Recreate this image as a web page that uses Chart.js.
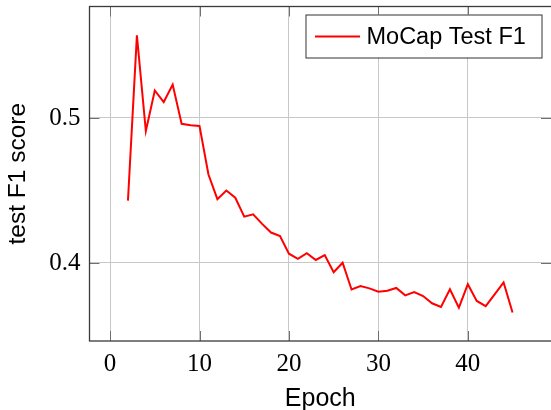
<!DOCTYPE html>
<html><head><meta charset="utf-8">
<script src="https://cdn.jsdelivr.net/npm/chart.js@4/dist/chart.umd.min.js"></script>
<style>html,body{margin:0;padding:0;background:#fff;}#wrap{width:551px;height:410px;}</style>
</head><body><div id="wrap"><canvas id="c" width="551" height="410"></canvas></div>
<script>
const epochs = [2,3,4,5,6,7,8,9,10,11,12,13,14,15,16,17,18,19,20,21,22,23,24,25,26,27,28,29,30,31,32,33,34,35,36,37,38,39,40,41,42,43,44,45];
const testF1 = [0.443,0.557,0.491,0.519,0.511,0.523,0.496,0.495,0.4945,0.461,0.444,0.450,0.445,0.432,0.4336,0.427,0.421,0.4186,0.4064,0.4028,0.4067,0.4021,0.4055,0.3936,0.4002,0.3817,0.3841,0.3825,0.3802,0.3809,0.3828,0.3777,0.3800,0.3772,0.3722,0.3697,0.3819,0.3692,0.3854,0.3738,0.3702,0.3784,0.3866,0.3658];
const xTickValues = [0,10,20,30,40];
const yTickValues = [0.4,0.5];
const seriesLabel = 'MoCap Test F1';
const xTitle = 'Epoch';
const yTitle = 'test F1 score';

const points = epochs.map((e,i)=>({x:e,y:testF1[i]}));

const framePlugin = {
  id:'frame',
  afterDraw(chart){
    const ctx = chart.ctx, a = chart.chartArea;
    const xs = chart.scales.x, ys = chart.scales.y;
    ctx.save();
    ctx.strokeStyle = '#707070'; ctx.lineWidth = 1;
    ctx.beginPath();
    xTickValues.forEach(v=>{
      const px = Math.round(xs.getPixelForValue(v))+0.5;
      ctx.moveTo(px,a.bottom); ctx.lineTo(px,a.bottom-10);
      ctx.moveTo(px,a.top); ctx.lineTo(px,a.top+10);
    });
    yTickValues.forEach(v=>{
      const py = Math.round(ys.getPixelForValue(v))+0.5;
      ctx.moveTo(a.left,py); ctx.lineTo(a.left+10,py);
      ctx.moveTo(a.right,py); ctx.lineTo(a.right-10,py);
    });
    ctx.stroke();
    ctx.strokeStyle = '#3a3a3a'; ctx.lineWidth = 1.3;
    ctx.strokeRect(a.left, a.top, a.right-a.left+1, a.bottom-a.top);
    const bx = a.right - 245.5, by = a.top + 8, bw = 236, bh = 43;
    ctx.fillStyle = '#fff';
    ctx.fillRect(bx,by,bw,bh);
    ctx.strokeStyle = '#333'; ctx.lineWidth = 1;
    ctx.strokeRect(bx+0.5,by+0.5,bw,bh);
    const cy = by + bh/2 + 0.5;
    ctx.strokeStyle = '#ff0000'; ctx.lineWidth = 2;
    ctx.beginPath(); ctx.moveTo(bx+9.5,cy); ctx.lineTo(bx+54.5,cy); ctx.stroke();
    ctx.fillStyle = '#000'; ctx.font = '23.5px "Liberation Sans"';
    ctx.textBaseline = 'middle'; ctx.textAlign = 'left';
    ctx.fillText(chart.data.datasets[0].label, bx+61, cy+1);
    ctx.restore();
  }
};

new Chart(document.getElementById('c'), {
  type:'line',
  data:{datasets:[{label:seriesLabel,data:points,borderColor:'#ff0000',backgroundColor:'#ff0000',borderWidth:2,pointRadius:0,tension:0,fill:false,borderJoinStyle:'miter'}]},
  options:{
    responsive:false, animation:false, devicePixelRatio:1,
    layout:{padding:{top:6.5,right:0,left:0,bottom:0}},
    plugins:{legend:{display:false},tooltip:{enabled:false}},
    scales:{
      x:{type:'linear',min:-2.3,max:49.3,
        afterBuildTicks(s){s.ticks = xTickValues.map(v=>({value:v}));},
        afterFit(s){s.height = 69; s.paddingLeft = 0; s.paddingRight = 0;},
        border:{display:false},
        grid:{color:'#c8c8c8',lineWidth:1,drawTicks:false},
        ticks:{padding:8,color:'#000',font:{family:'"Liberation Serif"',size:25},callback:v=>String(v)},
        title:{display:true,text:xTitle,color:'#000',font:{family:'"Liberation Sans"',size:25},padding:{top:0,bottom:-4}}
      },
      y:{type:'linear',min:0.3462,max:0.5769,
        afterBuildTicks(s){s.ticks = yTickValues.map(v=>({value:v}));},
        afterFit(s){s.width = 89.5; s.paddingTop = 0; s.paddingBottom = 0;},
        border:{display:false},
        grid:{color:'#c8c8c8',lineWidth:1,drawTicks:false},
        ticks:{padding:9,color:'#000',font:{family:'"Liberation Serif"',size:25},callback:v=>v.toFixed(1)},
        title:{display:true,text:yTitle,color:'#000',font:{family:'"Liberation Sans"',size:24.5},padding:{top:4,bottom:0}}
      }
    }
  },
  plugins:[framePlugin]
});
</script></body></html>
